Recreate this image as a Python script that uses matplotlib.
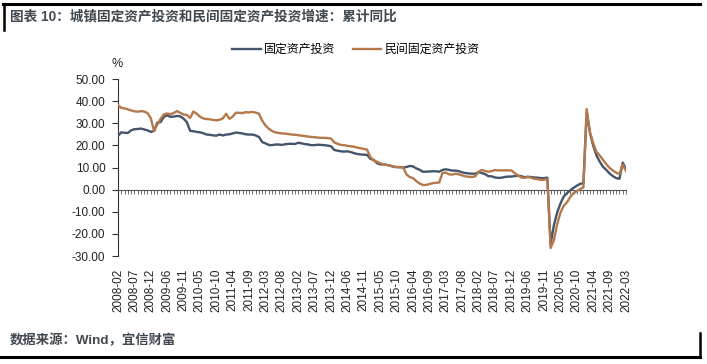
import matplotlib
matplotlib.use("Agg")
import matplotlib.pyplot as plt
from matplotlib.lines import Line2D

plt.rcParams['font.family'] = ['Liberation Sans', 'Noto Sans CJK SC', 'DejaVu Sans']
plt.rcParams['axes.unicode_minus'] = False

# 月份 (每年无1月数据)
dates = ['2008-%02d' % m for m in range(2, 13)]
for y in range(2009, 2022):
    dates += ['%d-%02d' % (y, m) for m in range(2, 13)]
dates += ['2022-02', '2022-03']

# 固定资产投资 累计同比 %
fai_yoy = [
    24.3, 25.9, 25.7, 25.6, 26.8, 27.3, 27.4, 27.6, 27.2, 26.8, 26.1,  # 2008
    26.5, 30.3, 30.5, 32.9, 33.6, 32.9, 33.0, 33.3, 33.1, 32.1, 30.5,  # 2009
    26.6, 26.4, 26.1, 25.9, 25.5, 24.9, 24.8, 24.5, 24.4, 24.9, 24.5,  # 2010
    24.9, 25.0, 25.4, 25.8, 25.6, 25.4, 25.0, 24.9, 24.9, 24.5, 23.8,  # 2011
    21.5, 20.9, 20.2, 20.1, 20.4, 20.4, 20.2, 20.5, 20.7, 20.7, 20.6,  # 2012
    21.2, 20.9, 20.6, 20.4, 20.1, 20.1, 20.3, 20.2, 20.1, 19.9, 19.6,  # 2013
    17.9, 17.6, 17.3, 17.2, 17.3, 17.0, 16.5, 16.1, 15.9, 15.8, 15.7,  # 2014
    13.9, 13.5, 12.0, 11.4, 11.4, 11.2, 10.9, 10.3, 10.2, 10.2, 10.0,  # 2015
    10.2, 10.7, 10.5, 9.6, 9.0, 8.1, 8.1, 8.2, 8.3, 8.3, 8.1,  # 2016
    8.9, 9.2, 8.9, 8.6, 8.6, 8.3, 7.8, 7.5, 7.3, 7.2, 7.2,  # 2017
    7.9, 7.5, 7.0, 6.1, 6.0, 5.5, 5.3, 5.4, 5.7, 5.9, 5.9,  # 2018
    6.1, 6.3, 6.1, 5.6, 5.8, 5.7, 5.5, 5.4, 5.2, 5.2, 5.4,  # 2019
    -24.5, -16.1, -10.3, -6.3, -3.1, -1.6, -0.3, 0.8, 1.8, 2.6, 2.9,  # 2020
    35.0, 25.6, 19.9, 15.4, 12.6, 10.3, 8.9, 7.3, 6.1, 5.2, 4.9,  # 2021
    12.2, 9.3,  # 2022
]

# 民间固定资产投资 累计同比 %
private_yoy = [
    38.2, 37.0, 36.7, 36.3, 35.8, 35.4, 35.2, 35.5, 35.3, 34.6, 32.3,  # 2008
    26.5, 29.5, 32.0, 34.0, 34.4, 34.1, 34.6, 35.5, 34.7, 33.9, 33.8,  # 2009
    32.4, 35.3, 34.3, 33.0, 32.2, 31.9, 31.8, 31.5, 31.3, 31.6, 32.2,  # 2010
    34.3, 32.0, 33.0, 34.8, 34.7, 34.6, 35.0, 34.9, 35.1, 34.8, 34.3,  # 2011
    31.2, 29.0, 27.5, 26.5, 25.9, 25.6, 25.4, 25.3, 25.1, 24.9, 24.8,  # 2012
    24.6, 24.4, 24.2, 24.0, 23.8, 23.7, 23.5, 23.4, 23.4, 23.3, 23.1,  # 2013
    21.3, 20.7, 20.2, 20.1, 19.8, 19.6, 19.4, 19.0, 18.7, 18.4, 18.1,  # 2014
    14.7, 13.2, 12.6, 11.9, 11.4, 11.1, 10.9, 10.4, 10.2, 10.1, 10.1,  # 2015
    6.9, 5.7, 5.2, 3.9, 2.8, 2.1, 2.1, 2.5, 2.9, 3.1, 3.2,  # 2016
    7.5, 7.7, 6.9, 6.8, 7.2, 6.9, 6.4, 6.0, 5.8, 5.7, 6.0,  # 2017
    8.1, 8.9, 8.4, 8.1, 8.4, 8.8, 8.7, 8.7, 8.7, 8.7, 8.7,  # 2018
    7.5, 6.4, 5.5, 5.3, 5.7, 5.4, 4.9, 4.7, 4.4, 4.5, 4.7,  # 2019
    -26.4, -22.8, -15.6, -10.4, -7.3, -5.7, -3.3, -1.5, -0.7, 0.2, 1.0,  # 2020
    36.4, 26.0, 21.0, 17.0, 15.4, 13.4, 11.5, 9.8, 8.6, 7.7, 7.0,  # 2021
    11.4, 8.4,  # 2022
]

GRAY = '#44546A'
ORANGE = '#B4784A'
TXT = '#404850'

fig = plt.figure(figsize=(7.07, 3.64), dpi=100)
ax = fig.add_axes([118 / 707, 1 - 256 / 364, 508 / 707, 177 / 364])

x = list(range(len(dates)))
ax.plot(x, fai_yoy, color=GRAY, lw=1.7, label='固定资产投资', zorder=3)
ax.plot(x, private_yoy, color=ORANGE, lw=1.7, label='民间固定资产投资', zorder=4)

ax.set_xlim(0, len(dates) - 1)
ax.set_ylim(-30, 50)
ax.set_yticks(range(-30, 51, 10))
ax.set_yticklabels(['%.2f' % v for v in range(-30, 51, 10)], fontsize=8.5, color='#222222')
ax.tick_params(axis='y', direction='out', length=4, width=0.8, color='#333333', pad=5)

# 零轴：每个点一个刻度
for s in ['top', 'right']:
    ax.spines[s].set_visible(False)
ax.spines['left'].set_color('#333333')
ax.spines['left'].set_linewidth(0.8)
ax.spines['bottom'].set_position(('data', 0))
ax.spines['bottom'].set_color('#555555')
ax.spines['bottom'].set_linewidth(0.8)
ax.set_xticks(x)
ax.tick_params(axis='x', direction='out', length=3, width=0.6, color='#555555',
               labelbottom=False)

# 底部日期标签
sec = ax.secondary_xaxis(0.0)
sec.set_xticks(x[::5])
sec.set_xticklabels(dates[::5], rotation=90, fontsize=8.5, color='#222222')
sec.tick_params(length=0, pad=9)
sec.spines['bottom'].set_visible(False)

fig.text(117 / 707, 1 - 64 / 364, '%', ha='center', va='center', fontsize=9, color='#222222')

fig.legend(loc='center', bbox_to_anchor=(0.503, 1 - 50 / 364), ncol=2, frameon=False,
           fontsize=8.6, handlelength=2.4, handletextpad=0.2, columnspacing=1.5)

fig.text(10 / 707, 1 - 16 / 364, '图表 10：城镇固定资产投资和民间固定资产投资增速：累计同比',
         ha='left', va='center', fontsize=9.8, fontweight='bold', color=TXT)
fig.text(10 / 707, 1 - 340 / 364, '数据来源：Wind，宜信财富',
         ha='left', va='center', fontsize=9.6, fontweight='bold', color=TXT)

# 外框线
fig.add_artist(Line2D([3 / 707, 700 / 707], [1 - 4 / 364, 1 - 4 / 364], color='black', lw=2.2))
fig.add_artist(Line2D([4 / 707, 4 / 707], [1 - 4 / 364, 1 - 30 / 364], color='black', lw=1.8))
fig.add_artist(Line2D([0, 700 / 707], [1 - 357 / 364, 1 - 357 / 364], color='black', lw=2.2))
fig.add_artist(Line2D([700 / 707, 700 / 707], [1 - 357 / 364, 1 - 333 / 364], color='black', lw=1.8))

fig.savefig('out.png', dpi=100)
